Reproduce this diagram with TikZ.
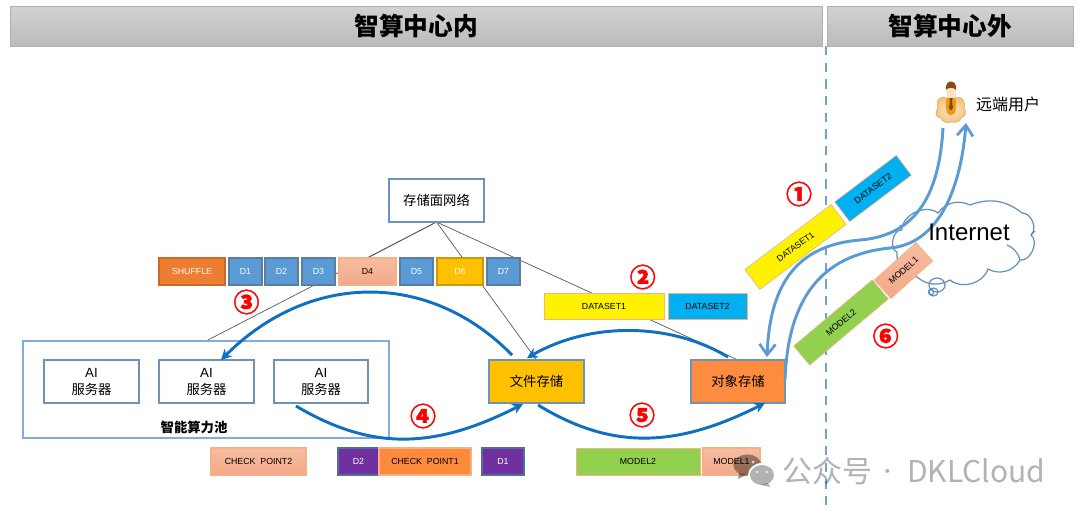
\documentclass[tikz,border=0pt]{standalone}
\usepackage{fontspec}
\setmainfont{Liberation Sans}
\newfontfamily\cjk{Noto Sans CJK SC}
\newfontfamily\cjkfat[FakeBold=1.6]{Noto Sans CJK SC}
\usetikzlibrary{arrows.meta,backgrounds,shadings,calc}
\definecolor{lineblue}{HTML}{5B9BD5}
\definecolor{darkblue}{HTML}{0F6FC0}
\definecolor{edgeblue}{HTML}{6C93B8}
\definecolor{salmonA}{HTML}{F5BDA3}
\definecolor{salmonB}{HTML}{F4A888}
\definecolor{salmonE}{HTML}{F4B183}
\definecolor{cShuf}{HTML}{ED7D31}
\definecolor{cShufE}{HTML}{C9692A}
\definecolor{cGold}{HTML}{FFC000}
\definecolor{cGoldE}{HTML}{C99A10}
\definecolor{cPurp}{HTML}{7030A0}
\definecolor{cPurpE}{HTML}{4F6F9F}
\definecolor{cOrng}{HTML}{FE8A3D}
\definecolor{cCyan}{HTML}{00B0F0}
\definecolor{cGreen}{HTML}{92D050}
\definecolor{cObj}{HTML}{FF8C3F}
\definecolor{cPool}{HTML}{7FAEDC}
\definecolor{cHeadT}{HTML}{D2D2D2}
\definecolor{cHeadB}{HTML}{BBBBBB}
\definecolor{cHeadE}{HTML}{B0B0B0}
\definecolor{cGline}{HTML}{5F5F5F}
\definecolor{cCloud}{HTML}{5E8FBF}
\definecolor{cSkinA}{HTML}{FFE7C4}
\definecolor{cSkinB}{HTML}{F5C27E}
\definecolor{cSkinE}{HTML}{C99A62}
\definecolor{cVest}{HTML}{EF9A12}
\definecolor{cFace}{HTML}{FCE0BF}
\definecolor{cHair}{HTML}{8A4B17}
\definecolor{cTie}{HTML}{7A4A10}
\newcommand{\bx}[7]{\node[#6,minimum width={(#4-#2)*0.75pt},minimum height={(#5-#3)*0.75pt},at={({(#2+#4)/2},{(#3+#5)/2})}] (#1) {#7};}
\tikzset{
  box/.style={draw,inner sep=0pt,outer sep=0pt,line width=.8pt,font=\fontsize{6.6}{8}\selectfont},
  dblue/.style={box,fill=lineblue,draw=edgeblue!85!black,text=white},
  shuf/.style={box,fill=cShuf,draw=cShufE,text=white},
  salm/.style={box,top color=salmonA,bottom color=salmonB,draw=salmonE},
  gold/.style={box,fill=cGold,draw=cGoldE,text=white},
  purp/.style={box,fill=cPurp,draw=cPurpE,text=white},
  orng/.style={box,fill=cOrng,draw=salmonE},
  yell/.style={box,line width=.5pt,fill=yellow,draw=salmonE},
  cyanbox/.style={box,line width=.5pt,fill=cCyan,draw=salmonE},
  gren/.style={box,line width=.5pt,fill=cGreen,draw=salmonE},
  white box/.style={draw=edgeblue,fill=white,inner sep=0pt,outer sep=0pt,line width=1pt,align=center,font=\fontsize{10}{12.75}\selectfont},
  header/.style={inner sep=0pt,outer sep=0pt,top color=cHeadT,bottom color=cHeadB,draw=cHeadE,line width=.4pt,font=\cjk\bfseries\fontsize{18.5}{22}\selectfont},
  tagnum/.style={inner sep=0pt,text=red,font=\cjkfat\bfseries\fontsize{19.5}{22}\selectfont},
  gline/.style={draw=cGline,line width=.55pt},
  flow/.style={draw=darkblue,line width=2.2pt,-{Stealth[length=8pt,width=8pt]}},
  wan/.style={draw=lineblue,line width=2.2pt},
  wanarrow/.style={wan,-{Straight Barb[length=8pt,width=12pt,line width=2pt]}},
  cloudline/.style={draw=cCloud,line width=.9pt},
  mark text/.style={inner sep=0pt,text=black,text opacity=.3,font=\cjk\fontsize{22.5}{26}\selectfont}
}
\begin{document}
\begin{tikzpicture}[x=0.75pt,y=-0.75pt]
\useasboundingbox (0,0) rectangle (1080,514);

% headers
\bx{hin}{10}{6}{822}{46}{header}{智算中心内}
\bx{hout}{827}{6}{1073}{46}{header}{智算中心外}

% top node
\bx{net}{389}{179}{484}{222}{white box}{\cjk 存储面网络}

% row of data blocks
\bx{shuffle}{159}{258}{225}{285}{shuf}{SHUFFLE}
\bx{d1}{229}{258}{262}{285}{dblue}{D1}
\bx{d2}{265}{258}{298}{285}{dblue}{D2}
\bx{d3}{302}{258}{335}{285}{dblue}{D3}
\bx{d4}{339}{258}{396}{285}{salm}{D4}
\bx{d5}{400}{258}{433}{285}{dblue}{D5}
\bx{d6}{437}{258}{483}{285}{gold}{D6}
\bx{d7}{487}{258}{520}{285}{dblue}{D7}

% dataset row
\bx{ds1}{544}{293}{664}{319}{yell}{DATASET1}
\bx{ds2}{668}{293}{747}{319}{cyanbox}{DATASET2}

% pool
\bx{pool}{23}{341}{389}{438}{draw=cPool,line width=1.2pt,inner sep=0pt,outer sep=0pt}{}
\bx{ai1}{44}{360}{139}{403}{white box}{AI\\\cjk 服务器}
\bx{ai2}{159}{360}{254}{403}{white box}{AI\\\cjk 服务器}
\bx{ai3}{274}{360}{368}{403}{white box}{AI\\\cjk 服务器}
\node[inner sep=0pt,font=\cjk\bfseries\fontsize{10}{12}\selectfont] (pooltext) at (194,427) {智能算力池};

% storage
\bx{file}{489}{360}{584}{403}{white box,fill=cGold}{\cjk 文件存储}
\bx{obj}{691}{360}{785}{403}{white box,fill=cObj}{\cjk 对象存储}

% bottom row
\bx{cp2}{211}{448}{306}{475}{salm}{CHECK\ \ POINT2}
\bx{bd2}{338}{448}{379}{475}{purp}{D2}
\bx{cp1}{379}{448}{471}{475}{orng}{CHECK\ \ POINT1}
\bx{bd1}{482}{448}{524}{475}{purp}{D1}
\bx{m2}{576}{448}{700}{475}{gren}{MODEL2}
\bx{m1}{703}{448}{760}{475}{salm}{MODEL1}

% rotated blocks
\node[yell,rotate=37,minimum width=81pt,minimum height=18.6pt] (rds1) at (795.5,247) {DATASET1};
\node[cyanbox,rotate=37,minimum width=57.8pt,minimum height=18.6pt] (rds2) at (873,188.5) {DATASET2};
\node[gren,rotate=40,minimum width=77pt,minimum height=18.6pt] (rm2) at (841,322.5) {MODEL2};
\node[salm,line width=.5pt,rotate=42,minimum width=42pt,minimum height=18.6pt] (rm1) at (903.5,270.5) {MODEL1};

% user
\coordinate (user) at (951,105);
\node[inner sep=0pt,font=\cjk\fontsize{12}{14}\selectfont] (usertext) at (1008,104) {远端用户};

% circled numbers
\node[tagnum] (n1) at (799,194) {①};
\node[tagnum] (n2) at (642.7,277) {②};
\node[tagnum] (n3) at (246.5,302) {③};
\node[tagnum] (n4) at (423,416) {④};
\node[tagnum] (n5) at (642,415) {⑤};
\node[tagnum] (n6) at (885.7,336) {⑥};

\begin{scope}[on background layer]
  \fill[white] (0,0) rectangle (1080,514);
  % boundary
  \coordinate (dashtop) at (826,46);
  \coordinate (dashbot) at (826,510);
  \draw[draw=lineblue!90!white,line width=1.6pt,dash pattern=on 7pt off 5.5pt] (dashtop) -- (dashbot);
  % gray connectors
  \draw[gline] (net.south) -- (d4.north);
  \draw[gline] (net.south) -- (pool.north);
  \draw[gline] (net.south) -- (file.north);
  \draw[gline] (net.south) -- (obj.north);
  % cloud
  \draw[cloudline,fill=white]
    (901.7,230) to[bend left=62] (938,213) to[bend left=40] (970,205)
    to[bend left=30] (1022,213) to[bend left=70] (1031,235) to[bend left=75] (1020,260)
    to[bend left=45] (988,269) to[bend left=55] (950,280) to[bend left=35] (917,277)
    to[bend left=45] (897,252) to[bend left=85] cycle;
  \draw[cloudline] (1007,245) to[bend left=25] (1020,260);
  \draw[cloudline] (1031,235) to[bend left=15] (1035,231);
  \draw[cloudline] (901.7,230) to[bend left=20] (900,225);
  \draw[cloudline] (937,285) ellipse (8 and 7);
  \draw[cloudline] (933.5,292) ellipse (4.5 and 4);
  \draw[cloudline] (931,292) ellipse (2.5 and 3);
\end{scope}

% person (drawn directly)
\shade[inner color=cSkinA,outer color=cSkinB,draw=cSkinE,line width=.3pt]
  (943,97) .. controls (937,98) and (936,104) .. (938,108)
  .. controls (934,112) and (936,118) .. (941,118)
  .. controls (943,123) and (948,123) .. (951,122)
  .. controls (955,123) and (960,122) .. (961,118)
  .. controls (966,117) and (967,111) .. (964,108)
  .. controls (966,103) and (963,98) .. (959,97)
  .. controls (956,99) and (946,99) .. (943,97) -- cycle;
\fill[cVest] (951,115.5) .. controls (945,115.5) and (945.5,104) .. (946.5,98) -- (955.5,98) .. controls (956.5,104) and (957,115.5) .. (951,115.5) -- cycle;
\fill[cFace] (946.5,90) rectangle (955.5,98);
\fill[cFace] (951,93) ellipse (4.7 and 5.5);
\fill[cHair] (945.8,90) .. controls (945.5,84) and (948,81.5) .. (951,81.5) .. controls (954,81.5) and (956.5,84) .. (956.2,90) .. controls (953,87) and (949,87) .. (945.8,90) -- cycle;
\fill[cTie] (949.5,98) -- (952.5,98) -- (952,102) -- (953,108) -- (951,110.5) -- (949,108) -- (950,102) -- cycle;

% dark blue flows
\draw[flow] ([shift={(-24.5,-5)}]file.north) .. controls (430,271) and (310,271) .. ([shift={(14.5,0)}]ai2.north);
\draw[flow] ([shift={(-10,-3)}]obj.north) .. controls (670,322) and (590,322) .. ([shift={(-9.5,-2)}]file.north);
\draw[flow] ([shift={(-25,3)}]ai3.south) .. controls (370,450) and (433,450) .. ([shift={(-13.5,1)}]file.south);
\draw[flow] ([shift={(1.5,2)}]file.south) .. controls (610,449) and (674,449) .. ([shift={(27,0)}]obj.south);

% light blue flows
\coordinate (wanA) at (860,240);
\coordinate (wanB) at (890,248);
\draw[wanarrow] ([shift={(-8,23)}]user) .. controls (940,180) and (925,235) .. (wanA) .. controls (800,245) and (770,280) .. ([shift={(29,-3)}]obj.north);
\draw[wanarrow] ([shift={(0,-2)}]obj.east) .. controls (788,300) and (820,255) .. (wanB) .. controls (945,243) and (962,175) .. ([shift={(15,18)}]user);

% cloud caption sits above the curves
\node[inner sep=0pt,font=\fontsize{18}{20}\selectfont] (inet) at (969,232) {Internet};

% watermark
\fill[black,opacity=.38] (747.3,465) ellipse (14 and 10.5);
\fill[black,opacity=.38] (739,473) -- (738,479) -- (746,475) -- cycle;
\fill[white] (762,475) ellipse (14 and 12);
\fill[black,opacity=.3] (762,475) ellipse (12 and 10);
\fill[black,opacity=.3] (768,483) -- (770,487) -- (761,485) -- cycle;
\fill[white,opacity=.7] (753,462) circle (1.5);
\fill[white,opacity=.7] (757,472) circle (1.3);
\fill[white,opacity=.7] (767,472) circle (1.3);
\node[mark text,anchor=base west] (wm1) at (782,482) {公众号};
\node[mark text,anchor=base,font=\cjk\fontsize{14}{16}\selectfont] (wm2) at (888,478) {·};
\node[mark text,anchor=base west] (wm3) at (907,482) {DKLCloud};
\end{tikzpicture}
\end{document}
